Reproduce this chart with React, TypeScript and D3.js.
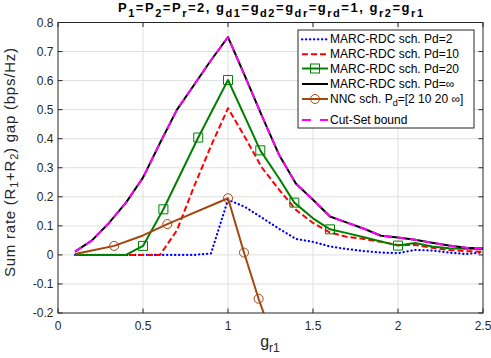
import * as d3 from 'd3';
import React from 'react';

// g_r1 grid shared by most curves
const gr1 = [0.1, 0.2, 0.3, 0.4, 0.5, 0.6, 0.7, 0.8, 0.9, 1.0, 1.1, 1.2, 1.3, 1.4, 1.5, 1.6, 1.7, 1.8, 1.9, 2.0, 2.1, 2.2, 2.3, 2.4, 2.5];

const pd2 = [0, 0, 0, 0, 0, 0, 0, 0, 0.005, 0.19, 0.165, 0.128, 0.09, 0.055, 0.045, 0.029, 0.02, 0.013, 0.008, 0.006, 0.017, 0.015, 0.008, 0.003, 0.009];
const pd10 = [0, 0, 0, 0, 0, 0, 0.085, 0.235, 0.375, 0.505, 0.405, 0.3, 0.225, 0.155, 0.11, 0.077, 0.062, 0.055, 0.045, 0.034, 0.034, 0.025, 0.017, 0.013, 0.011];
const pdInf = [0.011, 0.05, 0.11, 0.18, 0.266, 0.385, 0.5, 0.585, 0.67, 0.75, 0.615, 0.478, 0.345, 0.245, 0.19, 0.132, 0.111, 0.09, 0.066, 0.06, 0.052, 0.042, 0.032, 0.025, 0.023];
const cutSet = [0.011, 0.05, 0.11, 0.18, 0.266, 0.385, 0.5, 0.585, 0.67, 0.75, 0.615, 0.478, 0.345, 0.245, 0.19, 0.132, 0.111, 0.09, 0.066, 0.06, 0.052, 0.042, 0.032, 0.025, 0.023];

const pd20X = [0.1, 0.2, 0.3, 0.4, 0.5, 0.62, 0.825, 1.0, 1.19, 1.3, 1.39, 1.5, 1.6, 1.7, 1.8, 1.9, 2.0, 2.1, 2.2, 2.3, 2.4, 2.5];
const pd20 = [0, 0, 0, 0, 0.031, 0.157, 0.404, 0.602, 0.36, 0.264, 0.18, 0.126, 0.088, 0.075, 0.061, 0.046, 0.032, 0.041, 0.029, 0.023, 0.021, 0.02];
const pd20Marks = [4, 5, 6, 7, 8, 10, 12, 16];

const nncX = [0.1, 0.2, 0.33, 0.5, 0.643, 1.0, 1.094, 1.18, 1.21];
const nnc = [0.003, 0.015, 0.031, 0.067, 0.106, 0.195, 0.008, -0.151, -0.2];
const nncMarks = [2, 4, 5, 6, 7];

const xTicks = [0, 0.5, 1, 1.5, 2, 2.5];
const yTicks = [-0.2, -0.1, 0, 0.1, 0.2, 0.3, 0.4, 0.5, 0.6, 0.7, 0.8];

const font = '"Liberation Sans", Arial, sans-serif';
const axisColor = '#262626';
const blue = '#0000ff';
const red = '#ff0000';
const green = '#008000';
const brown = '#a5460f';
const magenta = '#ff00ff';

export default function App() {
    const left = 58, right = 483, top = 22.5, bottom = 313;
    const x = d3.scaleLinear().domain([0, 2.5]).range([left, right]);
    const y = d3.scaleLinear().domain([-0.2, 0.8]).range([bottom, top]);

    const lineOn = (xs: number[]) => d3.line<number>()
        .x((_, i) => x(xs[i]))
        .y(d => y(d));

    const tickLen = 4.5;

    // legend rows
    const lgX0 = 302, lgX1 = 328, lgText = 330;
    const rows = [39.3, 54.3, 68.5, 84, 99, 120];

    return (
        <svg width={491} height={358} style={{ position: 'absolute', left: 0, top: 0, background: '#fff' }}
            fontFamily={font}>
            <defs>
                <clipPath id="plotClip">
                    <rect x={left} y={top} width={right - left} height={bottom - top} />
                </clipPath>
            </defs>
            <rect x={0} y={0} width={491} height={358} fill="#fff" />

            {/* grid */}
            <g stroke="#dfdfdf" strokeWidth={1}>
                {xTicks.slice(1, -1).map(t => (
                    <line key={'gx' + t} x1={x(t)} x2={x(t)} y1={top} y2={bottom} />
                ))}
                {yTicks.slice(1, -1).map(t => (
                    <line key={'gy' + t} x1={left} x2={right} y1={y(t)} y2={y(t)} />
                ))}
            </g>

            {/* data */}
            <g clipPath="url(#plotClip)" fill="none" strokeLinejoin="round">
                <path d={lineOn(gr1)(pd2) || ''} stroke={blue} strokeWidth={2.2}
                    strokeDasharray="0.3 3.7" strokeLinecap="round" />
                <path d={lineOn(gr1)(pd10) || ''} stroke={red} strokeWidth={2} strokeDasharray="6 3" />
                <path d={lineOn(pd20X)(pd20) || ''} stroke={green} strokeWidth={2} />
                {pd20Marks.map(i => (
                    <rect key={'sq' + i} x={x(pd20X[i]) - 4.5} y={y(pd20[i]) - 4.5} width={9} height={9}
                        stroke={green} strokeWidth={1} fill="none" />
                ))}
                <path d={lineOn(gr1)(pdInf) || ''} stroke="#000" strokeWidth={2} />
                <path d={lineOn(nncX)(nnc) || ''} stroke={brown} strokeWidth={2} />
                {nncMarks.map(i => (
                    <circle key={'c' + i} cx={x(nncX[i])} cy={y(nnc[i])} r={4.5}
                        stroke={brown} strokeWidth={1} fill="none" />
                ))}
                <path d={lineOn(gr1)(cutSet) || ''} stroke={magenta} strokeWidth={2} strokeDasharray="8 5" />
            </g>

            {/* axes box and ticks */}
            <g stroke={axisColor} strokeWidth={1}>
                <rect x={left} y={top} width={right - left} height={bottom - top} fill="none" />
                {xTicks.map(t => (
                    <g key={'tx' + t}>
                        <line x1={x(t)} x2={x(t)} y1={bottom} y2={bottom - tickLen} />
                        <line x1={x(t)} x2={x(t)} y1={top} y2={top + tickLen} />
                    </g>
                ))}
                {yTicks.map(t => (
                    <g key={'ty' + t}>
                        <line x1={left} x2={left + tickLen} y1={y(t)} y2={y(t)} />
                        <line x1={right} x2={right - tickLen} y1={y(t)} y2={y(t)} />
                    </g>
                ))}
            </g>

            {/* tick labels */}
            <g fontSize={12} fill={axisColor}>
                {xTicks.map(t => (
                    <text key={'lx' + t} x={x(t)} y={329.5} textAnchor="middle">{String(t)}</text>
                ))}
                {yTicks.map(t => (
                    <text key={'ly' + t} x={53.5} y={y(t) + 4.3} textAnchor="end">{String(+t.toFixed(1))}</text>
                ))}
            </g>

            {/* title */}
            <text x={270.5} y={12} textAnchor="middle" fontWeight="bold" fontSize={13} fill="#000"
                textLength={305} lengthAdjust="spacing">
                P<tspan fontSize={11} dy={5}>1</tspan><tspan dy={-5}>=P</tspan><tspan fontSize={11} dy={5}>2</tspan>
                <tspan dy={-5}>=P</tspan><tspan fontSize={11} dy={5}>r</tspan><tspan dy={-5}>=2, g</tspan>
                <tspan fontSize={11} dy={5}>d1</tspan><tspan dy={-5}>=g</tspan><tspan fontSize={11} dy={5}>d2</tspan>
                <tspan dy={-5}>=g</tspan><tspan fontSize={11} dy={5}>dr</tspan><tspan dy={-5}>=g</tspan>
                <tspan fontSize={11} dy={5}>rd</tspan><tspan dy={-5}>=1, g</tspan><tspan fontSize={11} dy={5}>r2</tspan>
                <tspan dy={-5}>=g</tspan><tspan fontSize={11} dy={5}>r1</tspan>
            </text>

            {/* x label */}
            <text x={270} y={347} textAnchor="middle" fontSize={16} fill={axisColor}>
                g<tspan fontSize={12} dy={5}>r1</tspan>
            </text>

            {/* y label */}
            <text transform="translate(15,162.5) rotate(-90)" textAnchor="middle" fontSize={15} fill={axisColor}
                textLength={229} lengthAdjust="spacing">
                Sum rate (R<tspan fontSize={11} dy={3}>1</tspan><tspan dy={-3}>+R</tspan><tspan fontSize={11} dy={3}>2</tspan>
                <tspan dy={-3}>) gap (bps/Hz)</tspan>
            </text>

            {/* legend */}
            <rect x={298} y={30} width={176} height={98} fill="#fff" stroke={axisColor} strokeWidth={1} />
            <g fill="none">
                <line x1={lgX0} x2={lgX1} y1={rows[0]} y2={rows[0]} stroke={blue} strokeWidth={2.2}
                    strokeDasharray="0.3 3.7" strokeLinecap="round" />
                <line x1={lgX0} x2={lgX1} y1={rows[1]} y2={rows[1]} stroke={red} strokeWidth={2} strokeDasharray="6 3" />
                <line x1={lgX0} x2={lgX1} y1={rows[2]} y2={rows[2]} stroke={green} strokeWidth={2} />
                <rect x={(lgX0 + lgX1) / 2 - 4.5} y={rows[2] - 4.5} width={9} height={9} stroke={green} strokeWidth={1} />
                <line x1={lgX0} x2={lgX1} y1={rows[3]} y2={rows[3]} stroke="#000" strokeWidth={2} />
                <line x1={lgX0} x2={lgX1} y1={rows[4]} y2={rows[4]} stroke={brown} strokeWidth={2} />
                <circle cx={(lgX0 + lgX1) / 2} cy={rows[4]} r={4.5} stroke={brown} strokeWidth={1} />
                <line x1={lgX0} x2={lgX1} y1={rows[5]} y2={rows[5]} stroke={magenta} strokeWidth={2} strokeDasharray="9 9" />
            </g>
            <g fontSize={12} fill="#000">
                <text x={lgText} y={rows[0] + 4}>MARC-RDC sch. Pd=2</text>
                <text x={lgText} y={rows[1] + 4}>MARC-RDC sch. Pd=10</text>
                <text x={lgText} y={rows[2] + 4}>MARC-RDC sch. Pd=20</text>
                <text x={lgText} y={rows[3] + 4}>MARC-RDC sch. Pd=∞</text>
                <text x={lgText} y={rows[4] + 4}>NNC sch. P<tspan fontSize={9} dy={3}>d</tspan><tspan dy={-3}>=[2 10 20 ∞]</tspan></text>
                <text x={lgText} y={rows[5] + 4}>Cut-Set bound</text>
            </g>
        </svg>
    );
}
